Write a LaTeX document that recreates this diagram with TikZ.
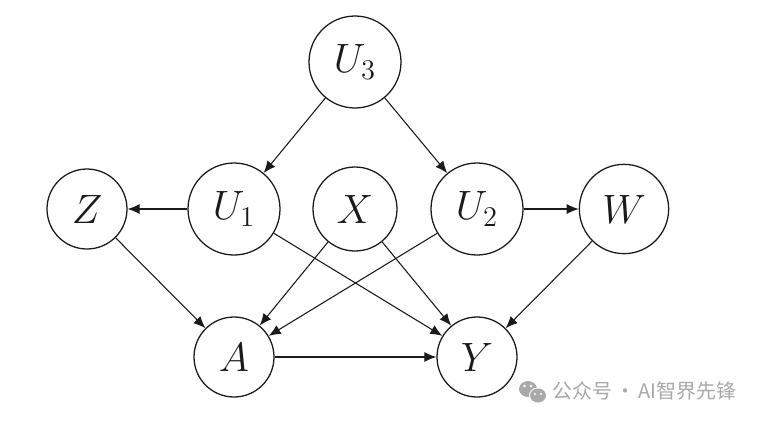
\documentclass[tikz,border=0pt]{standalone}
\usepackage{fontspec}
\usetikzlibrary{arrows.meta}
\newfontfamily\cjk{Noto Sans CJK SC}
\definecolor{inkc}{HTML}{1A1A1A}
\definecolor{wm}{HTML}{A9A9A9}
\newcommand{\varlabel}[1]{\scalebox{1.78}{\LARGE$#1$}}
\tikzset{
  x=0.75pt,y=-0.75pt,
  var/.style={circle,draw=inkc,line width=0.95pt,fill=white,inner sep=0pt,text=inkc},
  edge/.style={draw=inkc,line width=0.8pt,-{Latex[length=9pt,width=7.5pt]}},
}
\begin{document}
\begin{tikzpicture}
\useasboundingbox (0,0) rectangle (760,422);
\fill[white] (0,0) rectangle (760,422);
\node[var,minimum size=69pt] (u3) at (355,62) {\varlabel{U_3}};
\node[var,minimum size=69pt] (u1) at (234,209) {\varlabel{U_1}};
\node[var,minimum size=63pt] (x) at (355,209) {\varlabel{X}};
\node[var,minimum size=69pt] (u2) at (477,209) {\varlabel{U_2}};
\node[var,minimum size=60pt] (z) at (87,209) {\varlabel{Z}};
\node[var,minimum size=67pt] (w) at (624,209) {\varlabel{W}};
\node[var,minimum size=60pt] (a) at (234,357) {\varlabel{A}};
\node[var,minimum size=60pt] (y) at (477,357) {\varlabel{Y}};
\draw[edge] (u3) -- (u1);
\draw[edge] (u3) -- (u2);
\draw[edge] (u1) -- (z);
\draw[edge] (u2) -- (w);
\draw[edge] (z) -- (a);
\draw[edge] (u1) -- (y);
\draw[edge] (x) -- (a);
\draw[edge] (x) -- (y);
\draw[edge] (u2) -- (a);
\draw[edge] (w) -- (y);
\draw[edge] (a) -- (y);
\node[text=wm,font=\cjk\fontsize{15}{15}\selectfont,anchor=west,inner sep=0pt] (mark) at (552,391) {公众号\hspace{2.2pt}·\hspace{2.2pt}AI智界先锋};
\fill[wm] (528,389) ellipse (9 and 8);
\fill[white] (524.5,386) circle (1.3);
\fill[white] (531,386) circle (1.3);
\fill[white] (538,395.5) ellipse (9 and 8);
\fill[wm] (538,395.5) ellipse (8 and 7);
\fill[white] (535,394) circle (1.2);
\fill[white] (541,394) circle (1.2);
\end{tikzpicture}
\end{document}
